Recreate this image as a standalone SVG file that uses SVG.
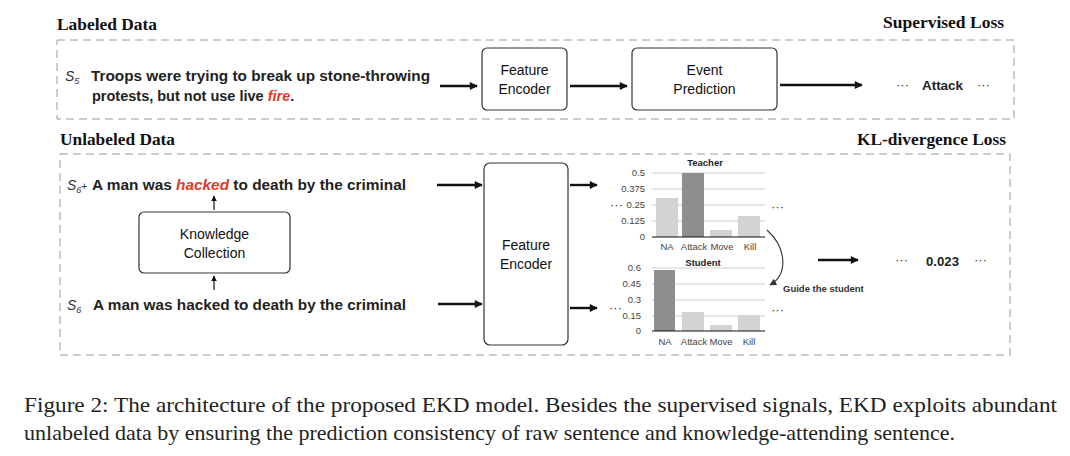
<svg xmlns="http://www.w3.org/2000/svg" width="1070" height="456" viewBox="0 0 1070 456">
<defs>
<marker id="ah" viewBox="0 0 10 10" refX="9" refY="5" markerWidth="9" markerHeight="8" orient="auto" markerUnits="userSpaceOnUse">
<path d="M0,0 L10,5 L0,10 Z" fill="#111"/>
</marker>
<marker id="ahsm" viewBox="0 0 10 10" refX="9" refY="5" markerWidth="6" markerHeight="6" orient="auto" markerUnits="userSpaceOnUse">
<path d="M0,0 L10,5 L0,10 Z" fill="#111"/>
</marker>
<marker id="ahs" viewBox="0 0 10 10" refX="9" refY="5" markerWidth="7" markerHeight="7" orient="auto" markerUnits="userSpaceOnUse">
<path d="M0,0 L10,5 L0,10 Z" fill="#333"/>
</marker>
<style>
.sec{font-family:"Liberation Serif","Times New Roman",serif;font-weight:bold;font-size:17px;fill:#111}
.dash{fill:none;stroke:#9a9a9a;stroke-width:1;stroke-dasharray:8 5}
.box{fill:#fff;stroke:#333;stroke-width:1.2}
.bt{font-family:"Liberation Sans",Arial,sans-serif;font-size:14px;fill:#111;text-anchor:middle}
.sent{font-family:"Liberation Sans",Arial,sans-serif;font-size:14.5px;font-weight:bold;fill:#222}
.sub{font-family:"Liberation Sans",Arial,sans-serif;font-size:14px;font-style:italic;fill:#333}
.conn{stroke:#111;stroke-width:2.4;fill:none}
.thin{stroke:#111;stroke-width:1.2;fill:none}
.axr{font-family:"Liberation Sans",Arial,sans-serif;font-size:9.5px;fill:#444;text-anchor:end}
.axm{font-family:"Liberation Sans",Arial,sans-serif;font-size:9.5px;fill:#444;text-anchor:middle}
.ct{font-family:"Liberation Sans",Arial,sans-serif;font-size:9.5px;font-weight:bold;fill:#222;text-anchor:middle}
.grid{stroke:#cfcfcf;stroke-width:1}
.light{fill:#d3d3d3}
.dark{fill:#8e8e8e}
.dots{font-family:"Liberation Sans",Arial,sans-serif;font-size:13px;fill:#333}
.out{font-family:"Liberation Sans",Arial,sans-serif;font-size:13px;font-weight:bold;fill:#222}
.cap{font-family:"Liberation Serif","Times New Roman",serif;font-size:21px;fill:#222}
</style>
</defs>
<rect width="1070" height="456" fill="#fff"/>

<g id="labeled-section">
<text class="sec" x="57" y="30" textLength="100" lengthAdjust="spacingAndGlyphs">Labeled Data</text>
<text class="sec" x="883" y="28" textLength="121" lengthAdjust="spacingAndGlyphs">Supervised Loss</text>
<rect class="dash" x="57" y="40" width="957" height="79"/>
</g>

<g id="unlabeled-section">
<text class="sec" x="60" y="145" textLength="115" lengthAdjust="spacingAndGlyphs">Unlabeled Data</text>
<text class="sec" x="857" y="145" textLength="149" lengthAdjust="spacingAndGlyphs">KL-divergence Loss</text>
<rect class="dash" x="60" y="154" width="950" height="201"/>
</g>

<g id="s5-sentence">
<text class="sub" x="65" y="81">S<tspan font-size="9" dy="3">5</tspan></text>
<text class="sent" x="91" y="81" textLength="339" lengthAdjust="spacingAndGlyphs">Troops were trying to break up stone-throwing</text>
<text class="sent" x="92" y="101">protests, but not use live <tspan fill="#e0392b" font-style="italic">fire</tspan>.</text>
</g>

<g id="feature-encoder-top">
<rect class="box" x="482" y="48" width="85" height="62" rx="5"/>
<text class="bt" x="524.5" y="75">Feature</text>
<text class="bt" x="524.5" y="94">Encoder</text>
</g>

<g id="event-prediction">
<rect class="box" x="632" y="48" width="145" height="62" rx="5"/>
<text class="bt" x="704.5" y="75">Event</text>
<text class="bt" x="704.5" y="94">Prediction</text>
</g>

<g id="attack-output">
<text class="dots" x="896" y="89">···</text>
<text class="out" x="922" y="90" textLength="41" lengthAdjust="spacingAndGlyphs">Attack</text>
<text class="dots" x="977" y="89">···</text>
</g>

<g id="s6plus-sentence">
<text class="sub" x="67" y="190">S<tspan font-size="9" dy="3">6</tspan><tspan dy="-3" font-size="10">+</tspan></text>
<text class="sent" x="92" y="190" textLength="314" lengthAdjust="spacingAndGlyphs">A man was <tspan fill="#e0392b" font-style="italic">hacked</tspan> to death by the criminal</text>
</g>

<g id="knowledge-collection">
<rect class="box" x="139" y="212" width="151" height="61" rx="5"/>
<text class="bt" x="214.5" y="239">Knowledge</text>
<text class="bt" x="214.5" y="258">Collection</text>
</g>

<g id="s6-sentence">
<text class="sub" x="67" y="310">S<tspan font-size="9" dy="3">6</tspan></text>
<text class="sent" x="93" y="310" textLength="313" lengthAdjust="spacingAndGlyphs">A man was hacked to death by the criminal</text>
</g>

<g id="feature-encoder-bottom">
<rect class="box" x="484" y="163" width="84" height="182" rx="6"/>
<text class="bt" x="526" y="250">Feature</text>
<text class="bt" x="526" y="269">Encoder</text>
</g>

<g id="teacher-chart">
<text class="ct" x="705" y="166">Teacher</text>
<line class="grid" x1="652" y1="173" x2="765" y2="173"/>
<line class="grid" x1="652" y1="189" x2="765" y2="189"/>
<line class="grid" x1="652" y1="205" x2="765" y2="205"/>
<line class="grid" x1="652" y1="221" x2="765" y2="221"/>
<rect class="light" x="656" y="198" width="22" height="39"/>
<rect class="dark" x="682" y="173" width="22" height="64"/>
<rect class="light" x="710" y="230" width="22" height="7"/>
<rect class="light" x="738" y="216" width="22" height="21"/>
<line x1="652" y1="237" x2="765" y2="237" stroke="#111" stroke-width="1.2"/>
<text class="axr" x="645" y="176">0.5</text>
<text class="axr" x="645" y="192">0.375</text>
<text class="axr" x="645" y="208">0.25</text>
<text class="axr" x="645" y="224">0.125</text>
<text class="axr" x="645" y="240">0</text>
<text class="axm" x="667" y="250">NA</text>
<text class="axm" x="694" y="250">Attack</text>
<text class="axm" x="722" y="250">Move</text>
<text class="axm" x="750" y="250">Kill</text>
<text class="dots" x="610" y="209">···</text>
<text class="dots" x="771" y="211">···</text>
</g>

<g id="student-chart">
<text class="ct" x="703" y="266">Student</text>
<line class="grid" x1="652" y1="268" x2="765" y2="268"/>
<line class="grid" x1="652" y1="284" x2="765" y2="284"/>
<line class="grid" x1="652" y1="300" x2="765" y2="300"/>
<line class="grid" x1="652" y1="316" x2="765" y2="316"/>
<rect class="dark" x="654" y="270" width="21" height="61"/>
<rect class="light" x="682" y="312" width="22" height="19"/>
<rect class="light" x="710" y="325" width="22" height="6"/>
<rect class="light" x="738" y="315" width="22" height="16"/>
<line x1="652" y1="331" x2="765" y2="331" stroke="#111" stroke-width="1.2"/>
<text class="axr" x="641" y="271">0.6</text>
<text class="axr" x="641" y="287">0.45</text>
<text class="axr" x="641" y="303">0.3</text>
<text class="axr" x="641" y="319">0.15</text>
<text class="axr" x="641" y="334">0</text>
<text class="axm" x="665" y="345">NA</text>
<text class="axm" x="694" y="345">Attack</text>
<text class="axm" x="721" y="345">Move</text>
<text class="axm" x="749" y="345">Kill</text>
<text class="dots" x="609" y="312">···</text>
<text class="dots" x="771" y="314">···</text>
</g>

<g id="kl-output">
<text class="dots" x="895" y="264">···</text>
<text class="out" x="926" y="266" textLength="33" lengthAdjust="spacingAndGlyphs">0.023</text>
<text class="dots" x="974" y="264">···</text>
</g>

<g id="guide-label">
<text x="783" y="292" font-family="Liberation Sans, Arial, sans-serif" font-size="9.5" font-weight="bold" fill="#333">Guide the student</text>
</g>

<g id="connectors">
<line class="conn" x1="440" y1="86" x2="477" y2="86" marker-end="url(#ah)"/>
<line class="conn" x1="570" y1="86" x2="627" y2="86" marker-end="url(#ah)"/>
<line class="conn" x1="780" y1="85" x2="862" y2="85" marker-end="url(#ah)"/>
<line class="conn" x1="437" y1="185" x2="482" y2="185" marker-end="url(#ah)"/>
<line class="conn" x1="438" y1="304" x2="482" y2="304" marker-end="url(#ah)"/>
<line class="conn" x1="570" y1="185" x2="597" y2="185" marker-end="url(#ah)"/>
<line class="conn" x1="570" y1="308" x2="597" y2="308" marker-end="url(#ah)"/>
<line class="conn" x1="818" y1="260" x2="858" y2="260" marker-end="url(#ah)"/>
<line class="thin" x1="214" y1="210" x2="214" y2="196" marker-end="url(#ahsm)"/>
<line class="thin" x1="214" y1="290" x2="214" y2="276" marker-end="url(#ahsm)"/>
<path d="M767,230 C786,247 789,274 770,285" stroke="#333" stroke-width="1.1" fill="none" marker-end="url(#ahs)"/>
</g>

<g id="caption">
<text class="cap" x="24" y="412" textLength="1033" lengthAdjust="spacingAndGlyphs">Figure 2:  The architecture of the proposed EKD model.  Besides the supervised signals, EKD exploits abundant</text>
<text class="cap" x="24" y="440" textLength="931" lengthAdjust="spacingAndGlyphs">unlabeled data by ensuring the prediction consistency of raw sentence and knowledge-attending sentence.</text>
</g>
</svg>
